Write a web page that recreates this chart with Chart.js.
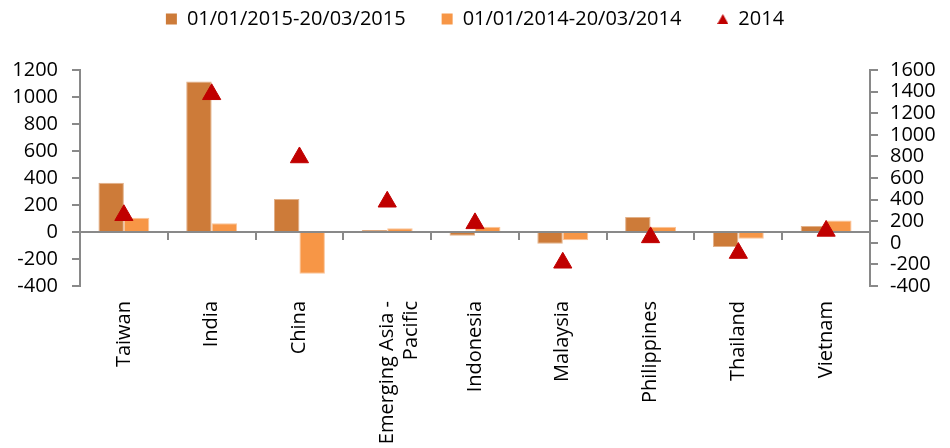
<!DOCTYPE html>
<html>
<head>
<meta charset="utf-8">
<script src="https://cdn.jsdelivr.net/npm/chart.js@4.4.0/dist/chart.umd.min.js"></script>
<style>
  html, body { margin: 0; padding: 0; background: #ffffff; }
  #wrap { width: 950px; height: 448px; }
</style>
</head>
<body>
<div id="wrap"><canvas id="chart" width="950" height="448"></canvas></div>
<script>
// categories and series
const countries = ["Taiwan", "India", "China", ["Emerging Asia -", "Pacific"], "Indonesia", "Malaysia", "Philippines", "Thailand", "Vietnam"];
const flows2015 = [365, 1115, 245, 15, -28, -87, 112, -112, 45];
const flows2014ytd = [105, 65, -310, 28, 38, -61, 38, -50, 85];
const flows2014 = [255, 1375, 790, 380, 180, -185, 50, -95, 110];

// axis tick labels
const leftTicks = [-400, -200, 0, 200, 400, 600, 800, 1000, 1200];
const rightTicks = [-400, -200, 0, 200, 400, 600, 800, 1000, 1200, 1400, 1600];

const seriesNames = ["01/01/2015-20/03/2015", "01/01/2014-20/03/2014", "2014"];

const AXIS_GREY = "#898989";

Chart.defaults.font.family = "'Open Sans', sans-serif";
Chart.defaults.font.size = 20;
Chart.defaults.color = "#000000";

// small triangle for the legend entry of the marker series
function legendTriangle() {
  const c = document.createElement("canvas");
  c.width = 11;
  c.height = 10;
  const g = c.getContext("2d");
  g.fillStyle = "#C00000";
  g.beginPath();
  g.moveTo(5.5, 0);
  g.lineTo(11, 10);
  g.lineTo(0, 10);
  g.closePath();
  g.fill();
  return c;
}
const triIcon = legendTriangle();

// legend sits a bit higher than chart.js puts it, and the plot starts at y=70
const legendPlacement = {
  id: "legendPlacement",
  afterInit(chart) {
    const legend = chart.legend;
    const baseFit = legend.fit;
    legend.fit = function () {
      baseFit.call(this);
      this.height = 70;
    };
  },
  afterLayout(chart) {
    chart.legend.top -= 27;
    chart.legend.bottom -= 27;
  }
};

function plainNumber(value) {
  return String(value);
}

const ctx = document.getElementById("chart").getContext("2d");
const chart = new Chart(ctx, {
  type: "bar",
  data: {
    labels: countries,
    datasets: [
      {
        label: seriesNames[0],
        data: flows2015,
        backgroundColor: "#CD7B39",
        borderColor: "#E2B189",
        borderWidth: 1,
        barPercentage: 1,
        categoryPercentage: 0.58,
        xAxisID: "x",
        yAxisID: "y"
      },
      {
        label: seriesNames[1],
        data: flows2014ytd,
        backgroundColor: "#F79646",
        borderColor: "#FAC49A",
        borderWidth: 1,
        barPercentage: 1,
        categoryPercentage: 0.58,
        xAxisID: "x",
        yAxisID: "y"
      },
      {
        type: "line",
        label: seriesNames[2],
        data: flows2014,
        showLine: false,
        pointStyle: "triangle",
        pointRadius: 10.5,
        pointHoverRadius: 10.5,
        pointBackgroundColor: "#C00000",
        pointBorderColor: "#C00000",
        pointBorderWidth: 1,
        backgroundColor: "#C00000",
        borderColor: "#C00000",
        order: -1,
        xAxisID: "x",
        yAxisID: "y1"
      }
    ]
  },
  options: {
    responsive: false,
    animation: false,
    devicePixelRatio: 1,
    layout: { padding: 0 },
    scales: {
      x: {
        type: "category",
        position: "bottom",
        offset: true,
        grid: { display: false, drawTicks: false },
        border: { display: false },
        ticks: {
          autoSkip: false,
          minRotation: 90,
          maxRotation: 90,
          padding: 15,
          font: { size: 20 }
        },
        afterFit: function (scale) {
          scale.height = 162;
        }
      },
      // axis line along zero with the category tick marks
      xz: {
        type: "category",
        position: { y: 0 },
        offset: true,
        grid: {
          offset: true,
          drawOnChartArea: false,
          drawTicks: true,
          tickLength: 7,
          color: AXIS_GREY,
          lineWidth: 2
        },
        border: { display: true, color: AXIS_GREY, width: 2 },
        ticks: { display: false }
      },
      y: {
        position: "left",
        min: leftTicks[0],
        max: leftTicks[leftTicks.length - 1],
        ticks: { stepSize: 200, autoSkip: false, padding: 14, font: { size: 20 }, callback: plainNumber },
        grid: { drawOnChartArea: false, drawTicks: true, tickLength: 8, color: AXIS_GREY, lineWidth: 2 },
        border: { display: true, color: AXIS_GREY, width: 2 },
        afterFit: function (scale) {
          scale.width = 80;
        }
      },
      y1: {
        position: "right",
        min: rightTicks[0],
        max: rightTicks[rightTicks.length - 1],
        ticks: { stepSize: 200, autoSkip: false, padding: 12, font: { size: 20 }, callback: plainNumber },
        grid: { drawOnChartArea: false, drawTicks: true, tickLength: 8, color: AXIS_GREY, lineWidth: 2 },
        border: { display: true, color: AXIS_GREY, width: 2 },
        afterFit: function (scale) {
          scale.width = 80;
        }
      }
    },
    plugins: {
      legend: {
        display: true,
        position: "top",
        labels: {
          usePointStyle: true,
          boxWidth: 11,
          boxHeight: 11,
          padding: 36,
          font: { size: 20 },
          generateLabels: function (chart) {
            const items = Chart.defaults.plugins.legend.labels.generateLabels(chart);
            items.sort((a, b) => a.datasetIndex - b.datasetIndex);
            items.forEach((item) => {
              item.lineWidth = 0;
              item.pointStyle = item.datasetIndex === 2 ? triIcon : "rect";
            });
            return items;
          }
        }
      },
      tooltip: { enabled: false }
    }
  },
  plugins: [legendPlacement]
});
chart.update();
</script>
</body>
</html>
